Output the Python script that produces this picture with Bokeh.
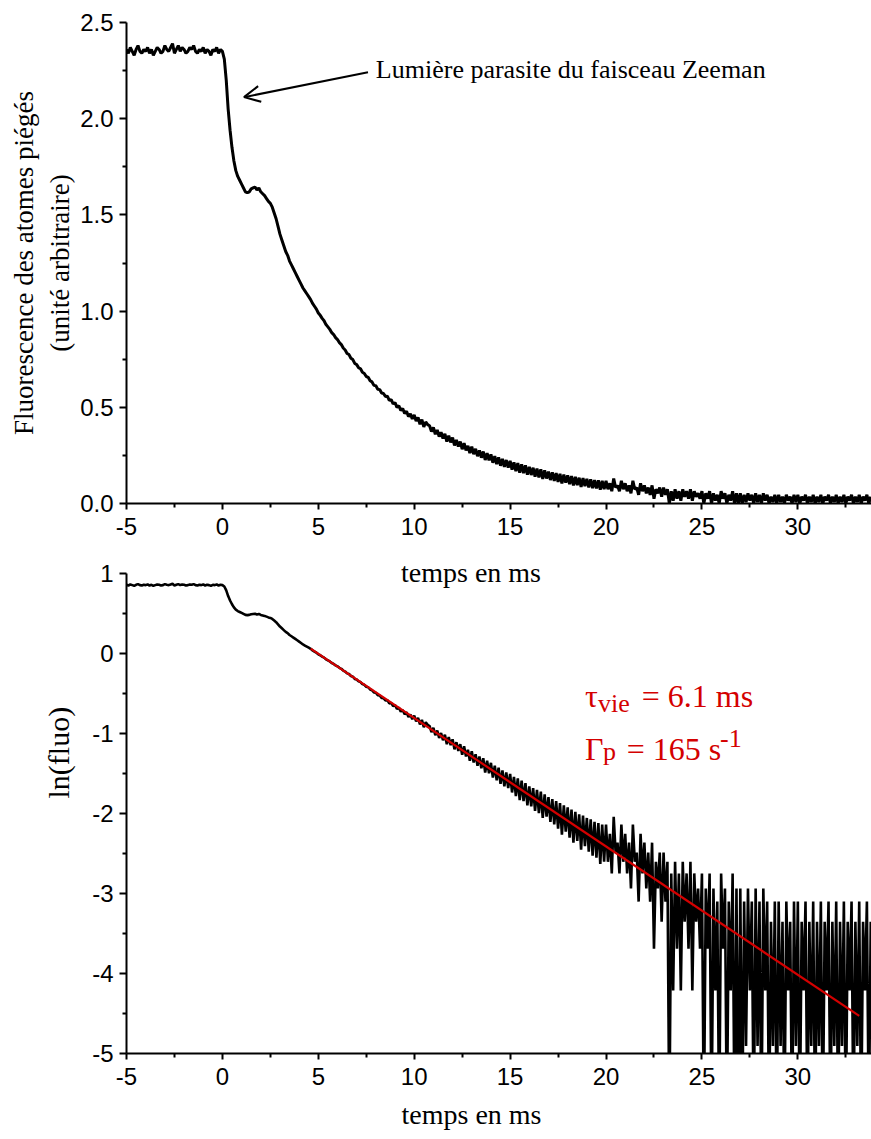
import numpy as np
from bokeh.plotting import figure
from bokeh.layouts import column
from bokeh.models import Range1d, FixedTicker, PrintfTickFormatter, Label, Arrow, OpenHead, Title
from bokeh.embed import file_html
from bokeh.resources import INLINE

# ---------------- data ----------------
t_start = -5.0      # ms, first sample
t_step = 0.1        # ms between samples

# fluorescence (arb. units), t = -5.0 .. -0.1 ms
fluo_baseline = [2.36, 2.34, 2.37, 2.35, 2.33, 2.36, 2.38, 2.35, 2.34, 2.36,
                 2.35, 2.37, 2.34, 2.36, 2.33, 2.35, 2.37, 2.36, 2.34, 2.35,
                 2.38, 2.36, 2.35, 2.37, 2.39, 2.34, 2.36, 2.38, 2.35, 2.37,
                 2.36, 2.34, 2.35, 2.37, 2.36, 2.38, 2.35, 2.34, 2.36, 2.35,
                 2.37, 2.34, 2.36, 2.35, 2.33, 2.36, 2.35, 2.37, 2.34, 2.36]
# t = 0.0 .. 4.9 ms
fluo_drop = [2.35, 2.31, 2.20, 2.05, 1.94, 1.85, 1.78, 1.73, 1.70, 1.68,
             1.66, 1.64, 1.62, 1.615, 1.62, 1.635, 1.64, 1.645, 1.63, 1.64,
             1.62, 1.61, 1.60, 1.585, 1.57, 1.56, 1.54, 1.51, 1.48, 1.44,
             1.40, 1.37, 1.34, 1.31, 1.29, 1.26, 1.24, 1.22, 1.20, 1.18,
             1.16, 1.14, 1.12, 1.105, 1.09, 1.075, 1.06, 1.04, 1.025, 1.01]
# t = 5.0 .. 9.9 ms
fluo_decay = [0.990, 0.978, 0.962, 0.950, 0.930, 0.918, 0.905, 0.888, 0.878, 0.862,
              0.852, 0.836, 0.826, 0.808, 0.798, 0.780, 0.774, 0.755, 0.748, 0.728,
              0.722, 0.706, 0.700, 0.682, 0.676, 0.660, 0.656, 0.638, 0.632, 0.614,
              0.612, 0.594, 0.592, 0.574, 0.572, 0.556, 0.558, 0.536, 0.540, 0.518,
              0.524, 0.500, 0.508, 0.484, 0.494, 0.468, 0.480, 0.452, 0.466, 0.440]
# t = 10.0 .. 19.9 ms
fluo_mid = [0.460, 0.428, 0.448, 0.412, 0.436, 0.398, 0.424, 0.410, 0.404, 0.374,
            0.395, 0.360, 0.382, 0.348, 0.370, 0.338, 0.362, 0.322, 0.352, 0.318,
            0.342, 0.302, 0.330, 0.296, 0.322, 0.282, 0.314, 0.276, 0.300, 0.262,
            0.295, 0.256, 0.284, 0.246, 0.276, 0.238, 0.270, 0.226, 0.262, 0.224,
            0.255, 0.212, 0.246, 0.205, 0.240, 0.196, 0.232, 0.190, 0.226, 0.186,
            0.222, 0.176, 0.214, 0.168, 0.210, 0.160, 0.204, 0.158, 0.198, 0.150,
            0.190, 0.148, 0.186, 0.140, 0.182, 0.136, 0.178, 0.128, 0.172, 0.130,
            0.166, 0.122, 0.162, 0.118, 0.158, 0.112, 0.154, 0.104, 0.150, 0.108,
            0.146, 0.100, 0.142, 0.094, 0.138, 0.096, 0.134, 0.086, 0.132, 0.090,
            0.128, 0.084, 0.126, 0.080, 0.122, 0.078, 0.120, 0.072, 0.118, 0.074]
fluo_tail = [0.118, 0.074, 0.105, 0.064, 0.130, 0.083, 0.094, 0.064, 0.118, 0.074,
             0.105, 0.064, 0.094, 0.053, 0.118, 0.074, 0.083, 0.045, 0.105, 0.064,
             0.094, 0.053, 0.083, 0.045, 0.094, 0.025, 0.074, 0.053, 0.083, 0.035,
             0.083, 0.045, 0.074, 0.0, 0.064, 0.0148, 0.074, 0.025, 0.064, 0.0148,
             0.074, 0.035, 0.064, 0.025, 0.074, 0.0148, 0.064, 0.035, 0.053, 0.025,
             0.064, 0.0, 0.053, 0.025, 0.064, 0.0, 0.053, 0.0148, 0.045, 0.0,
             0.064, 0.025, 0.053, 0.0, 0.045, 0.0148, 0.064, 0.0, 0.053, 0.0,
             0.053, 0.0, 0.045, 0.0074, 0.053, 0.0148, 0.045, 0.0, 0.053, 0.0074,
             0.045, 0.0, 0.053, 0.0148, 0.045, 0.0, 0.035, 0.0074, 0.045, 0.0,
             0.045, 0.0074, 0.035, 0.0, 0.045, 0.0148, 0.035, 0.0, 0.045, 0.0074,
             0.045, 0.0, 0.035, 0.0148, 0.045, 0.0, 0.035, 0.0074, 0.045, 0.0,
             0.035, 0.0074, 0.045, 0.0, 0.035, 0.0148, 0.045, 0.0, 0.035, 0.0074,
             0.045, 0.0, 0.035, 0.0074, 0.045, 0.0, 0.035, 0.0148, 0.045, 0.0,
             0.035, 0.0074, 0.045, 0.0, 0.035, 0.0148, 0.045, 0.0, 0.035]

# exponential fit drawn on the log plot (end points)
fit_t = [4.6, 33.2]
fit_ln = [0.06, -4.53]

x_ticks = [-5, 0, 5, 10, 15, 20, 25, 30]
x_minor = [-2.5, 2.5, 7.5, 12.5, 17.5, 22.5, 27.5, 32.5]
y1_ticks = [0.0, 0.5, 1.0, 1.5, 2.0, 2.5]
y1_minor = [0.25, 0.75, 1.25, 1.75, 2.25]
y2_ticks = [-5, -4, -3, -2, -1, 0, 1]
y2_minor = [-4.5, -3.5, -2.5, -1.5, -0.5, 0.5]

fluo = np.array(fluo_baseline + fluo_drop + fluo_decay + fluo_mid + fluo_tail)
t = t_start + t_step * np.arange(len(fluo))
# ln of the signal; non-positive samples fall below the axis
ln_fluo = np.where(fluo > 0, np.log(np.clip(fluo, 1e-12, None)), -6.0)

# ---------------- style ----------------
SERIF = "Liberation Serif"
SANS = "Liberation Sans"
RED = "#d40000"
W = 871
X_END = 33.84


def style(p, yticks, yminor, yfmt):
    p.xaxis.ticker = FixedTicker(ticks=x_ticks, minor_ticks=x_minor)
    p.yaxis.ticker = FixedTicker(ticks=yticks, minor_ticks=yminor)
    p.xaxis.formatter = PrintfTickFormatter(format="%d")
    p.yaxis.formatter = PrintfTickFormatter(format=yfmt)
    for ax in p.axis:
        ax.axis_line_width = 2
        ax.axis_line_color = "black"
        ax.major_tick_line_width = 2
        ax.minor_tick_line_width = 2
        ax.major_tick_line_color = "black"
        ax.minor_tick_line_color = "black"
        ax.major_tick_in = 0
        ax.minor_tick_in = 0
        ax.major_tick_out = 7
        ax.minor_tick_out = 4
        ax.major_label_text_font = SANS
        ax.major_label_text_font_size = "24px"
        ax.major_label_text_color = "black"
    p.xaxis.major_label_standoff = 8
    p.yaxis.major_label_standoff = 6
    p.xaxis.major_tick_out = 6
    p.grid.visible = False
    p.outline_line_color = None
    p.background_fill_color = "white"
    p.border_fill_color = "white"


# ---------------- top: fluorescence ----------------
p1 = figure(width=W, height=548, x_range=Range1d(-5, X_END), y_range=Range1d(0, 2.5),
            output_backend="svg", toolbar_location=None,
            min_border_left=126, min_border_right=0, min_border_top=22, min_border_bottom=45)
style(p1, y1_ticks, y1_minor, "%.1f")
p1.line(t, fluo, line_color="black", line_width=3)
p1.yaxis.axis_label = "Fluorescence des atomes piégés\n(unité arbitraire)"
p1.yaxis.axis_label_text_font = SERIF
p1.yaxis.axis_label_text_font_size = "27px"
p1.yaxis.axis_label_text_font_style = "normal"
p1.yaxis.axis_label_text_color = "black"
p1.yaxis.axis_label_standoff = 2

p1.add_layout(Label(x=8.0, y=2.256, text="Lumière parasite du faisceau Zeeman",
                    text_font=SERIF, text_font_size="26px", text_color="black",
                    text_baseline="alphabetic", text_align="left"))
p1.add_layout(Arrow(end=OpenHead(size=16, line_width=2, line_color="black"),
                    x_start=7.59, y_start=2.2417, x_end=1.126, y_end=2.112,
                    line_width=2, line_color="black"))

# ---------------- bottom: ln(fluo) ----------------
p2 = figure(width=W, height=591, x_range=Range1d(-5, X_END), y_range=Range1d(-5, 1.2125),
            output_backend="svg", toolbar_location=None,
            min_border_left=126, min_border_right=0, min_border_top=8, min_border_bottom=86)
style(p2, y2_ticks, y2_minor, "%d")
p2.yaxis.bounds = (-5, 1)
p2.line(t, ln_fluo, line_color="black", line_width=2.6)
p2.line(fit_t, fit_ln, line_color=RED, line_width=2.2)

# x-axis title of the upper panel (sits between the panels)
p2.add_layout(Label(x=12.96, y=1.0125, text="temps en ms", text_font=SERIF,
                    text_font_size="28px", text_color="black",
                    text_align="center", text_baseline="middle"))
# x-axis title of the lower panel
p2.add_layout(Title(text="temps en ms", align="left", offset=275, standoff=18,
                    text_font=SERIF, text_font_size="28px", text_font_style="normal",
                    text_color="black"), "below")
# y-axis title of the lower panel
p2.add_layout(Title(text="ln(fluo)", align="left", offset=255, standoff=30,
                    text_font=SERIF, text_font_size="30px", text_font_style="normal",
                    text_color="black"), "left")

# fit results
def red(x, y, txt, size):
    p2.add_layout(Label(x=x, y=y, text=txt, text_font=SERIF, text_font_size=size,
                        text_color=RED, text_baseline="alphabetic", text_align="left"))

red(18.905, -0.525, "τ", "32px")
red(19.58, -0.625, "vie", "26px")
red(21.86, -0.525, "= 6.1 ms", "32px")
red(18.905, -1.1875, "Γ", "32px")
red(19.84, -1.225, "p", "26px")
red(21.08, -1.1875, "= 165 s", "32px")
red(25.94, -1.0625, "-1", "26px")

layout = column(p1, p2, spacing=0)
open("out.html", "w").write(file_html(layout, INLINE))
